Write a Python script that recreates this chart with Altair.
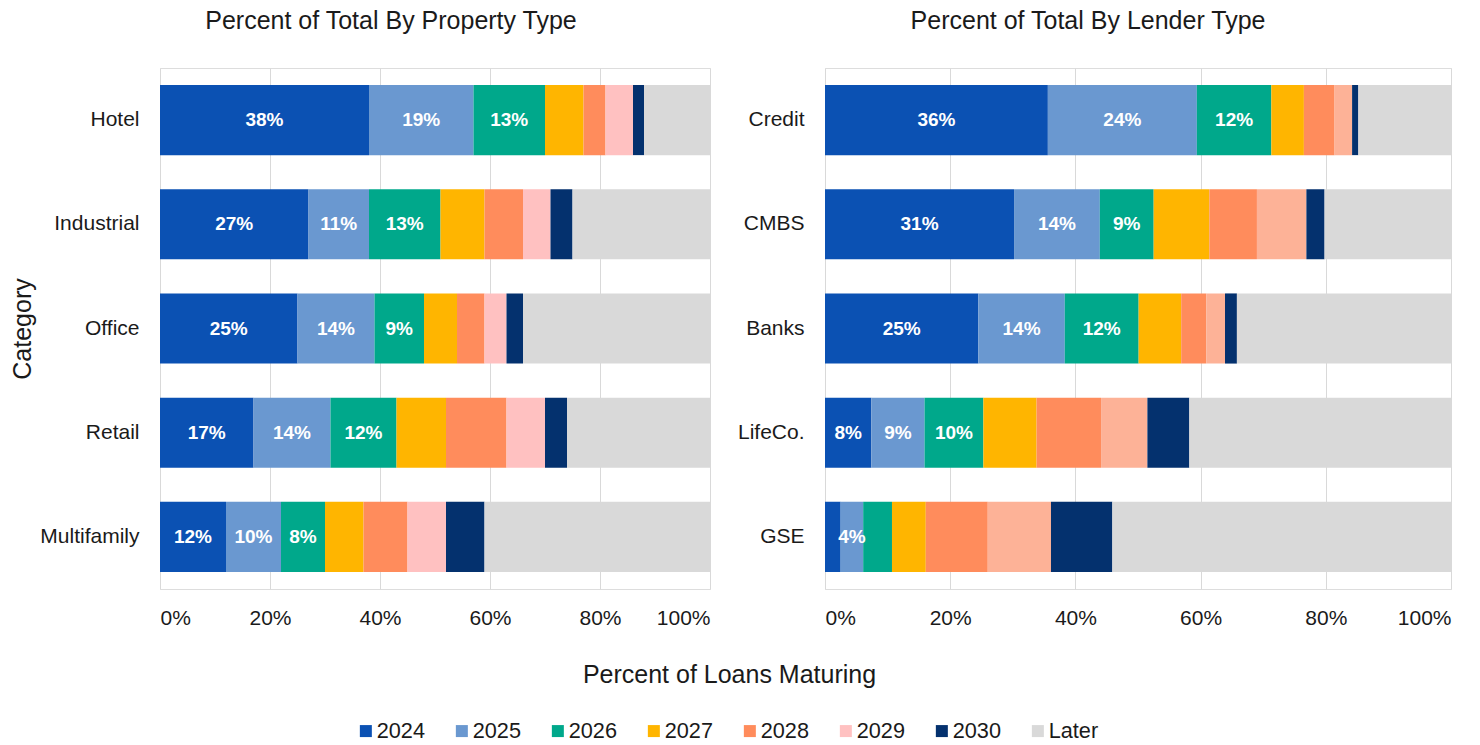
import altair as alt
import pandas as pd

years = ["2024", "2025", "2026", "2027", "2028", "2029", "2030", "Later"]

# ---- Property type panel ----
property_cats = ["Hotel", "Industrial", "Office", "Retail", "Multifamily"]
property_2024 = [38, 27, 25, 17, 12]
property_2025 = [19, 11, 14, 14, 10]
property_2026 = [13, 13, 9, 12, 8]
property_2027 = [7, 8, 6, 9, 7]
property_2028 = [4, 7, 5, 11, 8]
property_2029 = [5, 5, 4, 7, 7]
property_2030 = [2, 4, 3, 4, 7]
property_later = [12, 25, 34, 26, 41]
property_labels_2024 = ["38%", "27%", "25%", "17%", "12%"]
property_labels_2025 = ["19%", "11%", "14%", "14%", "10%"]
property_labels_2026 = ["13%", "13%", "9%", "12%", "8%"]

# ---- Lender type panel ----
lender_cats = ["Credit", "CMBS", "Banks", "LifeCo.", "GSE"]
lender_2024 = [35.6, 30.2, 24.5, 7.4, 2.5]
lender_2025 = [23.8, 13.7, 13.8, 8.5, 3.6]
lender_2026 = [11.9, 8.6, 11.8, 9.4, 4.6]
lender_2027 = [5.2, 8.9, 6.8, 8.5, 5.4]
lender_2028 = [4.9, 7.6, 4.0, 10.3, 9.9]
lender_2029 = [2.8, 7.9, 3.0, 7.4, 10.1]
lender_2030 = [1.0, 2.9, 1.9, 6.7, 9.8]
lender_later = [14.8, 20.2, 34.2, 41.8, 54.1]
lender_labels_2024 = ["36%", "31%", "25%", "8%", ""]
lender_labels_2025 = ["24%", "14%", "14%", "9%", "4%"]
lender_labels_2026 = ["12%", "9%", "12%", "10%", ""]

x_ticks = [0, 20, 40, 60, 80, 100]

colors_left = ["#0B51B3", "#6A98D0", "#00A88B", "#FFB500", "#FF8C5C", "#FFC1C1", "#04316E", "#D9D9D9"]
colors_right = ["#0B51B3", "#6A98D0", "#00A88B", "#FFB500", "#FF8C5C", "#FDB297", "#04316E", "#D9D9D9"]

FONT = "Liberation Sans, Arial, sans-serif"
TEXT_COLOR = "#1a1a1a"


def build(cats, series, labels):
    rows = []
    for i, c in enumerate(cats):
        cum = 0.0
        for k, y in enumerate(years):
            v = series[k][i]
            lab = labels[k][i] if k < len(labels) else ""
            rows.append(dict(cat=c, year=y, order=k, start=cum, end=cum + v,
                             mid=cum + v / 2, label=lab))
            cum += v
    return pd.DataFrame(rows)


df_prop = build(property_cats,
                [property_2024, property_2025, property_2026, property_2027,
                 property_2028, property_2029, property_2030, property_later],
                [property_labels_2024, property_labels_2025, property_labels_2026])
df_lend = build(lender_cats,
                [lender_2024, lender_2025, lender_2026, lender_2027,
                 lender_2028, lender_2029, lender_2030, lender_later],
                [lender_labels_2024, lender_labels_2025, lender_labels_2026])


def panel(df, cats, colors, title, dx, width, left):
    yaxis = dict(domain=False, ticks=False, grid=False, labelFontSize=21,
                 labelPadding=21, labelColor=TEXT_COLOR, labelFont=FONT)
    if left:
        yaxis.update(titleFontSize=25, titleFontWeight="normal", titleColor=TEXT_COLOR,
                     titleFont=FONT, titlePadding=4)
    xaxis = dict(values=x_ticks, labelExpr="datum.value + '%'", domain=False, ticks=False,
                 grid=True, gridColor="#D9D9D9", gridWidth=1, labelFontSize=21,
                 labelPadding=18, labelColor=TEXT_COLOR, labelFont=FONT)
    if left:
        xaxis.update(titleX=569, titleY=93, titleAlign="center", titleBaseline="alphabetic",
                     titleFontSize=25, titleFontWeight="normal", titleColor=TEXT_COLOR,
                     titleFont=FONT)
    y = alt.Y("cat:N", sort=cats, title="Category" if left else None,
              scale=alt.Scale(paddingInner=0.327, paddingOuter=0.163),
              axis=alt.Axis(**yaxis))
    x = alt.X("start:Q", scale=alt.Scale(domain=[0, 100], nice=False, zero=True),
              title="Percent of Loans Maturing" if left else None,
              axis=alt.Axis(**xaxis))
    if left:
        legend = alt.Legend(orient="none", legendX=195, legendY=652, direction="horizontal",
                            title=None, symbolType="square", symbolSize=144,
                            symbolStrokeWidth=0, labelFontSize=21.7, labelFont=FONT,
                            labelColor=TEXT_COLOR, columnPadding=26, labelOffset=0)
        color = alt.Color("year:N", scale=alt.Scale(domain=years, range=colors),
                          sort=years, legend=legend)
    else:
        color = alt.Color("year:N", scale=alt.Scale(domain=years, range=colors),
                          sort=years, legend=None)
    bars = alt.Chart(df).mark_bar().encode(
        y=y, x=x, x2="end:Q", color=color, order=alt.Order("order:Q"))
    text = alt.Chart(df).mark_text(color="white", fontWeight="bold", fontSize=19,
                                   font="Liberation Sans Narrow, Liberation Sans, Arial",
                                   baseline="middle", align="center").encode(
        y=alt.Y("cat:N", sort=cats), x=alt.X("mid:Q"), text="label:N")
    return alt.layer(bars, text).properties(
        width=width, height=521,
        title=alt.TitleParams(title, fontSize=25, fontWeight="normal", color=TEXT_COLOR,
                              font=FONT, anchor="middle", dx=dx, offset=14,
                              baseline="alphabetic"))


left = panel(df_prop, property_cats, colors_left, "Percent of Total By Property Type", -44, 550, True)
right = panel(df_lend, lender_cats, colors_right, "Percent of Total By Lender Type", -50, 626, False)

chart = alt.hconcat(left, right, spacing=115, bounds="flush").resolve_scale(
    color="independent", x="independent", y="independent"
).properties(padding={"left": 2, "top": 0, "right": 0, "bottom": 0}).configure_view(
    stroke=None
).configure(font=FONT)

chart.save("out.html", embed_options={"renderer": "svg", "actions": False})
